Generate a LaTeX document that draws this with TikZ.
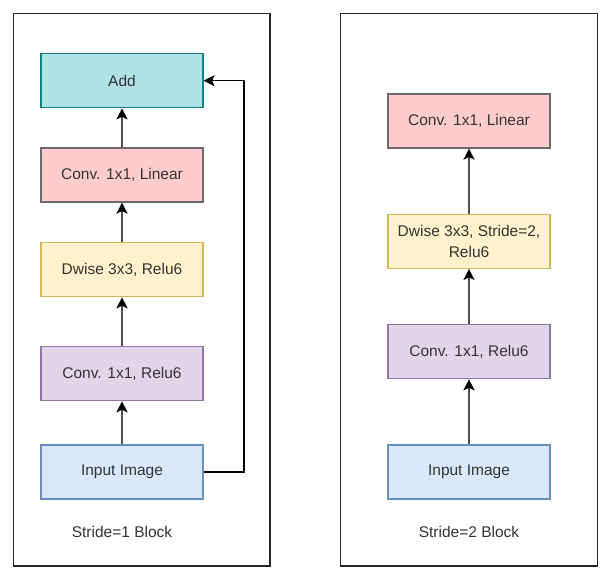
\documentclass[tikz,border=0pt]{standalone}
\usepackage{fontspec}
\setmainfont{Liberation Sans}
\usepackage{xcolor}
\usepackage{tikz}
\usetikzlibrary{positioning,calc,arrows.meta}

\definecolor{addfill}{HTML}{B0E3E6}
\definecolor{adddraw}{HTML}{0E8088}
\definecolor{linfill}{HTML}{FFCCCC}
\definecolor{lindraw}{HTML}{6B6B6B}
\definecolor{dwfill}{HTML}{FFF2CC}
\definecolor{dwdraw}{HTML}{D6B656}
\definecolor{relufill}{HTML}{E1D5E7}
\definecolor{reludraw}{HTML}{9673A6}
\definecolor{infill}{HTML}{DAE8FC}
\definecolor{indraw}{HTML}{6C8EBF}
\definecolor{txt}{HTML}{333333}
\definecolor{flow}{HTML}{505050}

\tikzset{
    layer/.style={rectangle, minimum width=162pt, minimum height=54pt, inner sep=0pt,
        line width=1.2pt, text=txt, align=center,
        font=\fontsize{15.5}{21}\selectfont},
    addbox/.style={layer, fill=addfill, draw=adddraw},
    linbox/.style={layer, fill=linfill, draw=lindraw},
    dwbox/.style={layer, fill=dwfill, draw=dwdraw},
    relubox/.style={layer, fill=relufill, draw=reludraw},
    inbox/.style={layer, fill=infill, draw=indraw},
    arr/.style={line width=1.8pt, draw=flow, -{Stealth[length=11pt,width=11pt,inset=2.5pt,color=black]}},
    skip/.style={line width=1.2pt, draw=black, -{Stealth[length=11pt,width=11pt,inset=2.5pt]}},
    panel/.style={line width=1.3pt, draw=black!85},
    caption/.style={text=txt, font=\fontsize{15.5}{19}\selectfont}
}

\begin{document}
\begin{tikzpicture}[x=1pt, y=-1pt]
    \useasboundingbox (0,0) rectangle (611,580);
    \draw[panel] (13.5,13.5) rectangle (270,566);
    \draw[panel] (340.7,13.5) rectangle (597.3,566);

    % stride 1
    \node[addbox]  (add1) at (122,80.7)  {Add};
    \node[linbox]  (lin1) at (122,175)   {Conv. 1x1, Linear};
    \node[dwbox]   (dw1)  at (122,269.7) {Dwise 3x3, Relu6};
    \node[relubox] (ex1)  at (122,373.7) {Conv. 1x1, Relu6};
    \node[inbox]   (in1)  at (122,472)   {Input Image};
    \node[caption] (cap1) at (122,531.7) {Stride=1 Block};

    \draw[arr] (in1) -- (ex1);
    \draw[arr] (ex1) -- (dw1);
    \draw[arr] (dw1) -- (lin1);
    \draw[arr] (lin1) -- (add1);
    \draw[skip] (in1.east) -- ++(40.3,0) |- (add1.east);

    % stride 2
    \node[linbox]  (lin2) at (469,121)   {Conv. 1x1, Linear};
    \node[dwbox]   (dw2)  at (469,241.3) {Dwise 3x3, Stride=2,\\Relu6};
    \node[relubox] (ex2)  at (469,351.7) {Conv. 1x1, Relu6};
    \node[inbox]   (in2)  at (469,472)   {Input Image};
    \node[caption] (cap2) at (469,531.7) {Stride=2 Block};

    \draw[arr] (in2) -- (ex2);
    \draw[arr] (ex2) -- (dw2);
    \draw[arr] (dw2) -- (lin2);
\end{tikzpicture}
\end{document}
